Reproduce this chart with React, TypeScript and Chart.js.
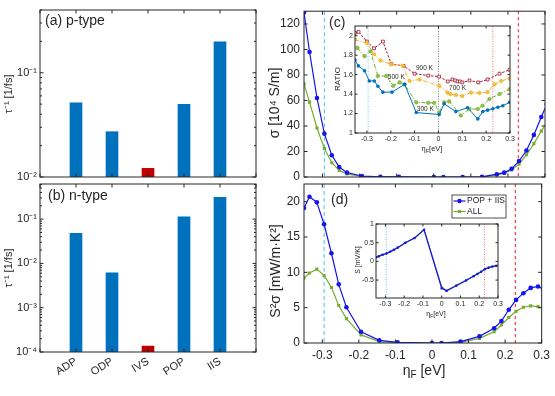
import React, { useEffect, useRef } from 'react';
import { Chart, registerables } from 'chart.js';
Chart.register(...registerables);

const W = 555;
const H = 396;
const FONT = "'Liberation Sans', Arial, Helvetica, sans-serif";
const AX = '#262626';
Chart.defaults.font.family = FONT;
Chart.defaults.color = AX;

// ---------------- data ----------------
const mechanisms = ['ADP', 'ODP', 'IVS', 'POP', 'IIS'];
const pTypeRates = [0.0516, 0.0272, 0.0121, 0.0497, 0.198];
const nTypeRates = [0.0478, 0.0061, 0.000136, 0.113, 0.31];
const barColors = ['#0072bd', '#0072bd', '#c00000', '#0072bd', '#0072bd'];

const etaF = [-0.35, -0.335, -0.315, -0.295, -0.275, -0.255, -0.234, -0.194, -0.144, -0.094, 0, 0.026, 0.078, 0.13, 0.17, 0.19, 0.21, 0.23, 0.25, 0.27, 0.29, 0.305];
const sigmaPopIis = [129, 98, 62, 34, 17, 7.8, 3.4, 0.8, 0.2, 0.1, 0, 0, 0, 0.1, 2.2, 3.4, 6.5, 12.5, 20.8, 33, 47, 57];
const sigmaAll = [73, 58.7, 38.4, 22.3, 11.2, 5.2, 2.3, 0.6, 0.15, 0.05, 0, 0, 0, 0.08, 1.5, 2.9, 5.5, 10.1, 17.4, 26.2, 36, 43];
const pfPopIis = [19.1, 20.7, 19.9, 16.8, 12.7, 8.3, 5.06, 1.6, 0.38, 0.1, 0, 0, 0.2, 0.94, 2.08, 3.1, 4.7, 6.1, 7.05, 7.8, 8.0, 7.6];
const pfAll = [9.2, 9.9, 10.45, 9.55, 7.85, 5.3, 3.45, 1.15, 0.2, 0.05, 0, 0, 0.1, 0.66, 1.6, 2.55, 3.6, 4.5, 5.06, 5.25, 5.15, 4.9];
const seebeckPopIis = [0.11, 0.14, 0.18, 0.21, 0.26, 0.31, 0.37, 0.5, 0.63, 0.85, -0.72, -0.79, -0.65, -0.51, -0.4, -0.34, -0.28, -0.21, -0.17, -0.14, -0.12, -0.11];
const seebeckAll = [0.1, 0.13, 0.17, 0.2, 0.25, 0.3, 0.36, 0.49, 0.62, 0.84, -0.68, -0.78, -0.64, -0.5, -0.39, -0.33, -0.27, -0.2, -0.16, -0.13, -0.11, -0.1];

const eta900 = [-0.35, -0.335, -0.3, -0.27, -0.233, -0.198, -0.146, -0.1, -0.043, 0.003, 0.039, 0.059, 0.07, 0.08, 0.09, 0.1, 0.13, 0.167, 0.206, 0.256, 0.298];
const ratio900 = [2.03, 2.04, 1.94, 1.87, 1.94, 1.71, 1.69, 1.61, 1.59, 1.58, 1.53, 1.55, 1.54, 1.53, 1.53, 1.52, 1.54, 1.52, 1.55, 1.61, 1.65];
const eta700 = [-0.35, -0.3, -0.27, -0.243, -0.198, -0.15, -0.121, -0.079, 0.003, 0.038, 0.05, 0.073, 0.1, 0.137, 0.172, 0.206, 0.235, 0.263, 0.298];
const ratio700 = [1.96, 1.925, 1.81, 1.745, 1.705, 1.69, 1.535, 1.55, 1.485, 1.415, 1.4, 1.39, 1.38, 1.415, 1.41, 1.42, 1.5, 1.535, 1.56];
const eta500 = [-0.34, -0.31, -0.285, -0.254, -0.219, -0.19, -0.163, -0.142, -0.093, -0.043, -0.018, 0.003, 0.024, 0.045, 0.094, 0.13, 0.165, 0.185, 0.214, 0.256, 0.298];
const ratio500 = [1.875, 1.79, 1.84, 1.586, 1.586, 1.485, 1.52, 1.5, 1.315, 1.31, 1.31, 1.21, 1.315, 1.325, 1.18, 1.247, 1.247, 1.28, 1.35, 1.4, 1.45];
const eta300 = [-0.35, -0.336, -0.31, -0.29, -0.269, -0.254, -0.233, -0.195, -0.142, -0.093, 0.003, 0.024, 0.073, 0.122, 0.165, 0.186, 0.206, 0.228, 0.249, 0.27, 0.298];
const ratio300 = [1.75, 1.69, 1.64, 1.535, 1.535, 1.48, 1.42, 1.42, 1.5, 1.21, 1.19, 1.3, 1.22, 1.26, 1.145, 1.22, 1.235, 1.25, 1.265, 1.28, 1.315];

const etaTicks = [-0.3, -0.2, -0.1, 0, 0.1, 0.2, 0.3];
const sigmaTicks = [0, 20, 40, 60, 80, 100, 120];
const pfTicks = [0, 5, 10, 15, 20];
const ratioTicks = [1, 1.2, 1.4, 1.6, 1.8, 2];
const seebeckTicks = [-0.5, 0, 0.5, 1];
const cyanEta = -0.295;
const redEta = 0.228;

// ---------------- helpers ----------------
const LINE_BLUE = '#1414f0';
const LINE_GREEN = '#77ac30';
const CYAN = '#4dbeee';
const RED = '#ff1a1a';

const SUP: Record<string, string> = { '-': '⁻', '0': '⁰', '1': '¹', '2': '²', '3': '³', '4': '⁴', '5': '⁵', '6': '⁶', '7': '⁷', '8': '⁸', '9': '⁹' };
const sup = (n: number) => String(n).split('').map((c) => SUP[c] || c).join('');
const fmt = (v: number) => String(Number(v.toFixed(2)));
const pts = (xs: number[], ys: number[]) => xs.map((x, i) => ({ x, y: ys[i] }));
const isPow10 = (v: number) => {
  const e = Math.round(Math.log10(v));
  return Math.abs(v / Math.pow(10, e) - 1) < 1e-6;
};
const logTicks = (min: number, max: number) => {
  const out: { value: number }[] = [];
  for (let e = Math.floor(Math.log10(min)); e <= Math.ceil(Math.log10(max)); e++) {
    for (let m = 1; m <= 9; m++) {
      const v = m * Math.pow(10, e);
      if (v >= min * 0.999 && v <= max * 1.001) out.push({ value: v });
    }
  }
  return out;
};
const pad = (L: number, T: number, R: number, B: number, wy: number, hx: number) => ({
  left: L - wy, top: T, right: W - R, bottom: H - B - hx,
});
const base = (padding: any) => ({
  responsive: false, animation: false, devicePixelRatio: 1, events: [],
  layout: { padding },
  plugins: { legend: { display: false }, tooltip: { enabled: false } },
});

function linAxis(kind: 'x' | 'y', min: number, max: number, ticks: number[], show: boolean, size: number, padding: number, fit: number) {
  return {
    type: 'linear', min, max, position: kind === 'x' ? 'bottom' : 'left',
    grid: { display: false, drawTicks: false }, border: { display: false }, title: { display: false },
    ticks: { display: show, font: { size, family: FONT }, color: AX, padding, autoSkip: false, maxRotation: 0, minRotation: 0, callback: (v: number) => fmt(v) },
    afterBuildTicks: (s: any) => { s.ticks = ticks.map((v) => ({ value: v })); },
    afterFit: (s: any) => { if (kind === 'x') s.height = fit; else s.width = fit; },
  };
}
function logAxis(min: number, max: number, fit: number) {
  return {
    type: 'logarithmic', min, max, position: 'left',
    grid: { display: false, drawTicks: false }, border: { display: false }, title: { display: false },
    ticks: { font: { size: 11, family: FONT }, color: AX, padding: 3, autoSkip: false, callback: (v: number) => (isPow10(v) ? '10' + sup(Math.round(Math.log10(v))) : '') },
    afterBuildTicks: (s: any) => { s.ticks = logTicks(min, max); },
    afterFit: (s: any) => { s.width = fit; },
  };
}
function catAxis(show: boolean, fit: number) {
  return {
    type: 'category', offset: false, position: 'bottom',
    grid: { display: false, drawTicks: false }, border: { display: false },
    ticks: { display: show, font: { size: 11, family: FONT }, color: AX, padding: 3, autoSkip: false, maxRotation: 32, minRotation: 32 },
    afterFit: (s: any) => { s.height = fit; },
  };
}

type Seg = { t: string; sub?: boolean };
type Txt = { x: number; y: number; s: string | Seg[]; size: number; rot?: number; align?: 'left' | 'center' | 'right'; data?: boolean };
type VL = { x: number; color: string; dash: number[]; w: number };
type Leg = { x: number; y: number; w: number; h: number; size: number; items: { label: string; color: string; style: 'circle' | 'rect' }[] };
type Decor = { fill?: boolean; vlines?: VL[]; texts?: Txt[]; tick: number; minor?: number; logY?: boolean; legend?: Leg };

function drawText(ctx: CanvasRenderingContext2D, t: Txt, x: number, y: number) {
  const segs: Seg[] = typeof t.s === 'string' ? [{ t: t.s }] : t.s;
  const parts = segs.map((g) => {
    const size = g.sub ? t.size * 0.72 : t.size;
    ctx.font = `${size}px ${FONT}`;
    return { g, size, w: ctx.measureText(g.t).width };
  });
  const total = parts.reduce((a, p) => a + p.w, 0);
  ctx.save();
  ctx.translate(x, y);
  if (t.rot) ctx.rotate((t.rot * Math.PI) / 180);
  let cx = t.align === 'left' ? 0 : t.align === 'right' ? -total : -total / 2;
  ctx.fillStyle = AX;
  ctx.textAlign = 'left';
  ctx.textBaseline = 'middle';
  for (const p of parts) {
    ctx.font = `${p.size}px ${FONT}`;
    ctx.fillText(p.g.t, cx, p.g.sub ? t.size * 0.32 : 0);
    cx += p.w;
  }
  ctx.restore();
}

function decor(d: Decor) {
  return {
    id: 'decor',
    beforeDraw(chart: any) {
      if (!d.fill) return;
      const a = chart.chartArea;
      const ctx = chart.ctx;
      ctx.save();
      ctx.fillStyle = '#ffffff';
      ctx.fillRect(a.left, a.top, a.right - a.left, a.bottom - a.top);
      ctx.restore();
    },
    beforeDatasetsDraw(chart: any) {
      if (!d.vlines) return;
      const a = chart.chartArea;
      const ctx = chart.ctx;
      const xs = chart.scales.x;
      ctx.save();
      for (const v of d.vlines) {
        const p = xs.getPixelForValue(v.x);
        ctx.strokeStyle = v.color;
        ctx.lineWidth = v.w;
        ctx.setLineDash(v.dash);
        ctx.beginPath();
        ctx.moveTo(p, a.top);
        ctx.lineTo(p, a.bottom);
        ctx.stroke();
      }
      ctx.restore();
    },
    afterDraw(chart: any) {
      const a = chart.chartArea;
      const ctx: CanvasRenderingContext2D = chart.ctx;
      const xs = chart.scales.x;
      const ys = chart.scales.y;
      ctx.save();
      ctx.strokeStyle = AX;
      ctx.lineWidth = 1;
      ctx.setLineDash([]);
      ctx.beginPath();
      xs.ticks.forEach((_: any, i: number) => {
        const p = xs.getPixelForTick(i);
        ctx.moveTo(p, a.bottom);
        ctx.lineTo(p, a.bottom - d.tick);
        ctx.moveTo(p, a.top);
        ctx.lineTo(p, a.top + d.tick);
      });
      ys.ticks.forEach((t: any, i: number) => {
        const p = ys.getPixelForTick(i);
        const len = d.logY && !isPow10(t.value) ? d.minor || d.tick / 2 : d.tick;
        ctx.moveTo(a.left, p);
        ctx.lineTo(a.left + len, p);
        ctx.moveTo(a.right, p);
        ctx.lineTo(a.right - len, p);
      });
      ctx.stroke();
      ctx.strokeRect(a.left, a.top, a.right - a.left, a.bottom - a.top);
      for (const t of d.texts || []) {
        const x = t.data ? xs.getPixelForValue(t.x) : t.x;
        const y = t.data ? ys.getPixelForValue(t.y) : t.y;
        drawText(ctx, t, x, y);
      }
      if (d.legend) {
        const L = d.legend;
        ctx.fillStyle = '#ffffff';
        ctx.fillRect(L.x, L.y, L.w, L.h);
        ctx.strokeStyle = AX;
        ctx.lineWidth = 0.8;
        ctx.strokeRect(L.x, L.y, L.w, L.h);
        L.items.forEach((it, i) => {
          const yy = L.y + 6 + i * 10.5;
          ctx.strokeStyle = it.color;
          ctx.lineWidth = 1.2;
          ctx.beginPath();
          ctx.moveTo(L.x + 1.5, yy);
          ctx.lineTo(L.x + 13.5, yy);
          ctx.stroke();
          ctx.fillStyle = it.color;
          if (it.style === 'circle') {
            ctx.beginPath();
            ctx.arc(L.x + 7.5, yy, 2.2, 0, Math.PI * 2);
            ctx.fill();
          } else {
            ctx.fillRect(L.x + 6, yy - 1.5, 3, 3);
          }
          drawText(ctx, { x: L.x + 15, y: yy, s: it.label, size: L.size, align: 'left' }, L.x + 15, yy);
        });
      }
      ctx.restore();
    },
  };
}

const etaLabel = (gap: string): Seg[] => [{ t: 'η' }, { t: 'F', sub: true }, { t: gap + '[eV]' }];

// ---------------- configs ----------------
const cfgA = () => ({
  type: 'bar',
  data: {
    labels: ['', ...mechanisms, ''],
    datasets: [{ data: [null, ...pTypeRates, null], backgroundColor: ['#0000', ...barColors, '#0000'], barThickness: 12, borderWidth: 0 }],
  },
  options: { ...base(pad(40, 10, 256, 177, 40, 0)), scales: { x: catAxis(false, 0), y: logAxis(0.01, 0.4, 40) } },
  plugins: [decor({ tick: 3.5, minor: 2, logY: true, texts: [
    { x: 45, y: 21, s: '(a) p-type', size: 14, align: 'left' },
    { x: 9, y: 94, s: 'τ⁻¹ [1/fs]', size: 11, rot: -90 },
  ] })],
});

const cfgB = () => ({
  type: 'bar',
  data: {
    labels: ['', ...mechanisms, ''],
    datasets: [{ data: [null, ...nTypeRates, null], backgroundColor: ['#0000', ...barColors, '#0000'], barThickness: 12, borderWidth: 0 }],
  },
  options: { ...base(pad(40, 184, 256, 352, 40, 30)), scales: { x: catAxis(true, 30), y: logAxis(0.0001, 0.62, 40) } },
  plugins: [decor({ tick: 3.5, minor: 2, logY: true, texts: [
    { x: 48, y: 196, s: '(b) n-type', size: 14, align: 'left' },
    { x: 9, y: 268, s: 'τ⁻¹ [1/fs]', size: 11, rot: -90 },
  ] })],
});

const mainSets = (blue: number[], green: number[]) => [
  { data: pts(etaF, blue), borderColor: LINE_BLUE, backgroundColor: LINE_BLUE, borderWidth: 1.2, pointRadius: 2.3, pointBorderWidth: 0, pointStyle: 'circle' },
  { data: pts(etaF, green), borderColor: LINE_GREEN, backgroundColor: LINE_GREEN, borderWidth: 1.2, pointRadius: 2.2, pointBorderWidth: 0, pointStyle: 'rect' },
];
const mainVlines: VL[] = [
  { x: cyanEta, color: CYAN, dash: [4, 3], w: 1 },
  { x: redEta, color: RED, dash: [3, 3], w: 1 },
];

const cfgC = () => ({
  type: 'line',
  data: { datasets: mainSets(sigmaPopIis, sigmaAll) },
  options: {
    ...base(pad(304, 10, 545, 177, 40, 0)),
    scales: { x: linAxis('x', -0.35, 0.3, etaTicks, false, 12, 5, 0), y: linAxis('y', 0, 130, sigmaTicks, true, 12, 4, 40) },
  },
  plugins: [decor({ tick: 3.5, vlines: mainVlines, texts: [
    { x: 329, y: 23, s: '(c)', size: 14, align: 'left' },
    { x: 275, y: 103, s: 'σ [10⁴ S/m]', size: 14, rot: -90 },
  ] })],
});

const cfgD = () => ({
  type: 'line',
  data: { datasets: mainSets(pfPopIis, pfAll) },
  options: {
    ...base(pad(304, 184, 545, 343, 40, 36)),
    scales: { x: linAxis('x', -0.35, 0.3, etaTicks, true, 12, 5, 36), y: linAxis('y', 0, 22.5, pfTicks, true, 12, 4, 40) },
  },
  plugins: [decor({
    tick: 3.5, vlines: mainVlines,
    texts: [
      { x: 331, y: 200, s: '(d)', size: 14, align: 'left' },
      { x: 276, y: 271, s: 'S²σ [mW/m·K²]', size: 14, rot: -90 },
      { x: 424, y: 371, s: etaLabel(' '), size: 14 },
    ],
    legend: { x: 452, y: 195, w: 54, h: 23, size: 8.5, items: [
      { label: 'POP + IIS', color: LINE_BLUE, style: 'circle' },
      { label: 'ALL', color: LINE_GREEN, style: 'rect' },
    ] },
  })],
});

const insetVlines = (withZero: boolean): VL[] => [
  { x: cyanEta, color: CYAN, dash: [1, 1.5], w: 0.8 },
  ...(withZero ? [{ x: 0, color: '#555555', dash: [1, 1.5], w: 0.8 }] : []),
  { x: redEta, color: '#ff4d4d', dash: [1, 1.5], w: 0.8 },
];

const cfgInsetC = () => ({
  type: 'line',
  data: { datasets: [
    { data: pts(eta300, ratio300), borderColor: '#0072bd', backgroundColor: '#0072bd', borderWidth: 1, pointRadius: 1.8, pointBorderWidth: 0 },
    { data: pts(eta500, ratio500), borderColor: '#77ac30', backgroundColor: '#8fc04a', borderWidth: 1, borderDash: [4, 1.5, 1, 1.5], pointRadius: 1.8, pointBorderWidth: 0.6, pointBorderColor: '#77ac30' },
    { data: pts(eta700, ratio700), borderColor: '#edb120', backgroundColor: '#f0c040', borderWidth: 1, borderDash: [4, 1.5, 1, 1.5], pointRadius: 1.8, pointBorderWidth: 0.6, pointBorderColor: '#edb120' },
    { data: pts(eta900, ratio900), borderColor: '#a2142f', backgroundColor: '#ffffff', borderWidth: 1, borderDash: [2.5, 1.5], pointRadius: 2, pointStyle: 'rect', pointBorderWidth: 0.8, pointBorderColor: '#a2142f' },
  ] },
  options: {
    ...base(pad(355, 26, 510, 133, 20, 10)),
    scales: { x: linAxis('x', -0.35, 0.3, etaTicks, true, 7, 2, 10), y: linAxis('y', 1, 2.1, ratioTicks, true, 7, 2, 20) },
  },
  plugins: [decor({ fill: true, tick: 2.5, vlines: insetVlines(true), texts: [
    { x: 338, y: 79, s: 'RATIO', size: 8, rot: -90 },
    { x: 432, y: 149, s: etaLabel(''), size: 7.5 },
    { x: -0.059, y: 1.664, s: '900 K', size: 6.5, data: true },
    { x: 0.08, y: 1.46, s: '700 K', size: 6.5, data: true },
    { x: -0.177, y: 1.573, s: '500 K', size: 6.5, data: true },
    { x: -0.055, y: 1.247, s: '300 K', size: 6.5, data: true },
  ] })],
});

const cfgInsetD = () => ({
  type: 'line',
  data: { datasets: [
    { data: pts(etaF, seebeckPopIis), borderColor: LINE_BLUE, backgroundColor: LINE_BLUE, borderWidth: 1.2, pointRadius: 1.2, pointBorderWidth: 0 },
    { data: pts(etaF, seebeckAll), borderColor: LINE_GREEN, backgroundColor: LINE_GREEN, borderWidth: 1.2, pointRadius: 1.4, pointStyle: 'rect', pointBorderWidth: 0 },
  ] },
  options: {
    ...base(pad(376, 224, 498, 298, 20, 10)),
    scales: { x: linAxis('x', -0.35, 0.3, etaTicks, true, 7, 2, 10), y: linAxis('y', -0.98, 1, seebeckTicks, true, 7, 2, 20) },
  },
  plugins: [decor({ fill: true, tick: 2.5, vlines: insetVlines(false), texts: [
    { x: 358, y: 260, s: 'S [mV/K]', size: 7, rot: -90 },
    { x: 436, y: 314, s: etaLabel(''), size: 7 },
  ] })],
});

function ChartCanvas({ make }: { make: () => any }) {
  const ref = useRef<HTMLCanvasElement>(null);
  useEffect(() => {
    const chart = new Chart(ref.current as HTMLCanvasElement, make());
    return () => chart.destroy();
  }, [make]);
  return <canvas ref={ref} width={W} height={H} style={{ position: 'absolute', left: 0, top: 0, width: W, height: H }} />;
}

export default function App() {
  return (
    <div style={{ position: 'fixed', left: 0, top: 0, width: W, height: H, background: '#ffffff', overflow: 'hidden' }}>
      <ChartCanvas make={cfgA} />
      <ChartCanvas make={cfgB} />
      <ChartCanvas make={cfgC} />
      <ChartCanvas make={cfgD} />
      <ChartCanvas make={cfgInsetC} />
      <ChartCanvas make={cfgInsetD} />
    </div>
  );
}
